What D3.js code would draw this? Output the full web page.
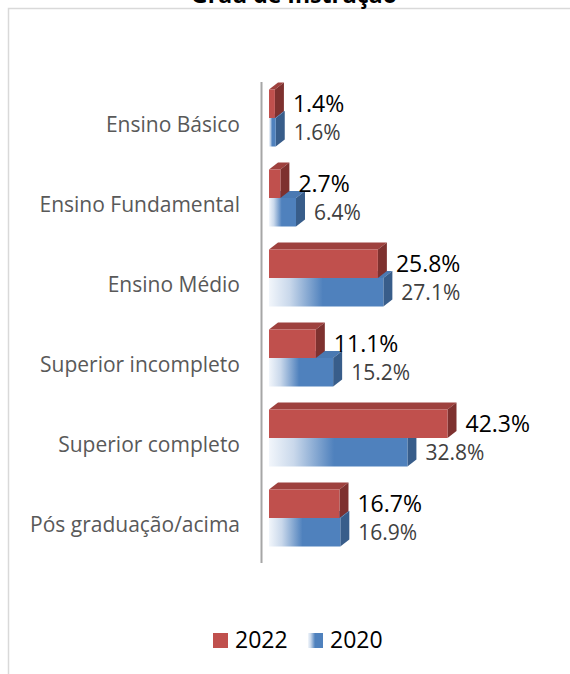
<!DOCTYPE html>
<html>
<head>
<meta charset="utf-8">
<script src="https://cdn.jsdelivr.net/npm/d3@7"></script>
<style>
  html, body { margin: 0; padding: 0; background: #fff; }
  svg { display: block; font-family: "Open Sans", "Noto Sans", sans-serif; }
</style>
</head>
<body>
<div id="chart"></div>
<script>
// chart data
var categories = ["Ensino Básico", "Ensino Fundamental", "Ensino Médio",
  "Superior incompleto", "Superior completo", "Pós graduação/acima"];
var series = ["2022", "2020"];
var values2022 = [1.4, 2.7, 25.8, 11.1, 42.3, 16.7];
var values2020 = [1.6, 6.4, 27.1, 15.2, 32.8, 16.9];
var title = "Grau de Instrução";

var width = 570, height = 674;
var depthX = 9, depthY = 7;

var svg = d3.select("#chart").append("svg")
  .attr("width", width)
  .attr("height", height);

var defs = svg.append("defs");
var grad = defs.append("linearGradient")
  .attr("id", "blueGrad")
  .attr("x1", "0").attr("x2", "1").attr("y1", "0").attr("y2", "0");
grad.append("stop").attr("offset", "0").attr("stop-color", "#f2f6fb");
grad.append("stop").attr("offset", "0.18").attr("stop-color", "#c9d8eb");
grad.append("stop").attr("offset", "0.47").attr("stop-color", "#4f81bd");
grad.append("stop").attr("offset", "1").attr("stop-color", "#4f81bd");

// chart border
svg.append("rect")
  .attr("x", 8.5).attr("y", 8.5)
  .attr("width", 600).attr("height", 700)
  .attr("fill", "none")
  .attr("stroke", "#d9d9d9")
  .attr("stroke-width", 1.5);

// title (cut off at the top)
svg.append("text")
  .attr("x", 294).attr("y", 3)
  .attr("text-anchor", "middle")
  .attr("font-size", 23)
  .attr("font-weight", "bold")
  .attr("fill", "#000")
  .text(title);

var x = d3.scaleLinear()
  .domain([0, 50])
  .range([269, 480]);

var y = d3.scaleBand()
  .domain(categories)
  .range([82, 562]);

var ySub = d3.scaleBand()
  .domain(series)
  .range([0, 57]);

var barTop = function (cat, s) {
  return y(cat) + (y.bandwidth() - 57) / 2 - 4 + ySub(s);
};

var bh = ySub.bandwidth();

// axis line (wall edge)
svg.append("line")
  .attr("x1", 261.5).attr("x2", 261.5)
  .attr("y1", 82).attr("y2", 563)
  .attr("stroke", "#a6a6a6")
  .attr("stroke-width", 2);

// category labels
svg.append("g").selectAll("text")
  .data(categories)
  .enter().append("text")
  .attr("x", 240)
  .attr("y", function (d) { return y(d) + y.bandwidth() / 2 + 10; })
  .attr("text-anchor", "end")
  .attr("font-size", 21)
  .attr("fill", "#595959")
  .text(function (d) { return d; });

function drawBar(g, cat, v, s, front, top, side) {
  var x0 = x(0), x1 = x(v);
  var y0 = barTop(cat, s), y1 = y0 + bh;
  // top face
  g.append("path")
    .attr("d", "M" + x0 + "," + y0 + "L" + (x0 + depthX) + "," + (y0 - depthY) +
      "L" + (x1 + depthX) + "," + (y0 - depthY) + "L" + x1 + "," + y0 + "Z")
    .attr("fill", top);
  // side face
  g.append("path")
    .attr("d", "M" + x1 + "," + y0 + "L" + (x1 + depthX) + "," + (y0 - depthY) +
      "L" + (x1 + depthX) + "," + (y1 - depthY) + "L" + x1 + "," + y1 + "Z")
    .attr("fill", side);
  // front face
  g.append("rect")
    .attr("x", x0).attr("y", y0)
    .attr("width", x1 - x0).attr("height", bh)
    .attr("fill", front);
}

var bars = svg.append("g");
categories.forEach(function (cat, i) {
  var g = bars.append("g");
  drawBar(g, cat, values2020[i], "2020", "url(#blueGrad)", "#4a79b2", "#385d8a");
  drawBar(g, cat, values2022[i], "2022", "#c0504d", "#9e413e", "#7e312f");
});

// data labels
svg.append("g").selectAll("text")
  .data(values2022)
  .enter().append("text")
  .attr("x", function (d) { return x(d) + depthX + 9; })
  .attr("y", function (d, i) { return barTop(categories[i], "2022") + bh / 2 + 8.5; })
  .attr("font-size", 23)
  .attr("fill", "#000")
  .text(function (d) { return d.toFixed(1) + "%"; });

svg.append("g").selectAll("text")
  .data(values2020)
  .enter().append("text")
  .attr("x", function (d) { return x(d) + depthX + 9; })
  .attr("y", function (d, i) { return barTop(categories[i], "2020") + bh / 2 + 8; })
  .attr("font-size", 21)
  .attr("fill", "#404040")
  .text(function (d) { return d.toFixed(1) + "%"; });

// legend
var legend = svg.append("g");
var legendItems = [
  {name: "2022", fill: "#c0504d", x: 213},
  {name: "2020", fill: "url(#blueGrad)", x: 308}
];
legendItems.forEach(function (d) {
  legend.append("rect")
    .attr("x", d.x).attr("y", 633)
    .attr("width", 15).attr("height", 15)
    .attr("fill", d.fill);
  legend.append("text")
    .attr("x", d.x + 22).attr("y", 648)
    .attr("font-size", 23)
    .attr("fill", "#000")
    .text(d.name);
});
</script>
</body>
</html>
